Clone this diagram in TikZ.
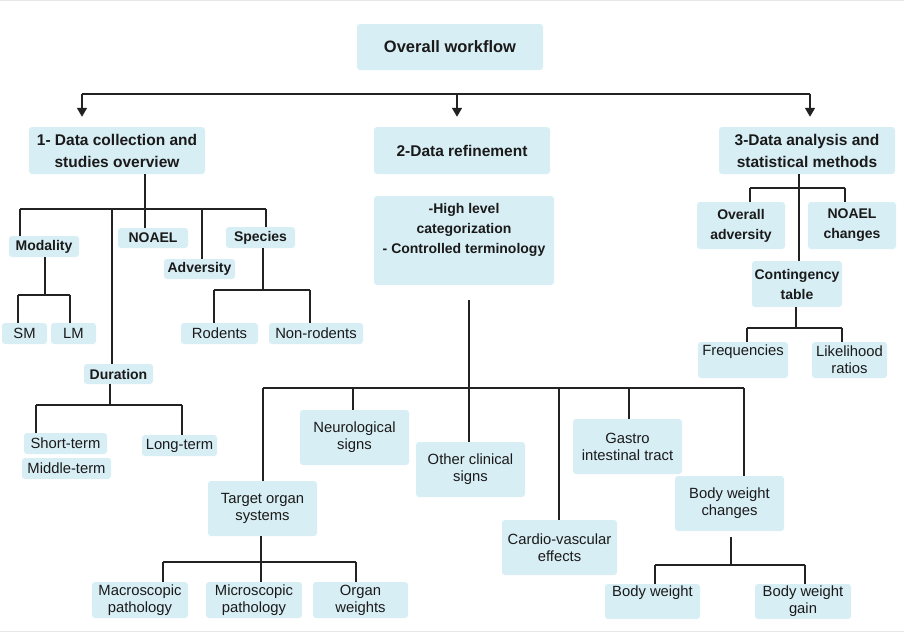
\documentclass[tikz,border=0pt]{standalone}
\usepackage{fontspec}
\setmainfont{Liberation Sans}
\usetikzlibrary{arrows.meta,calc}
\definecolor{boxc}{HTML}{D8EEF5}
\definecolor{lnc}{HTML}{222222}
\definecolor{txtc}{HTML}{1A1A1A}
\definecolor{framec}{HTML}{E6E6E6}
\begin{document}
\begin{tikzpicture}[x=1pt,y=-1pt,
  box/.style={fill=boxc, rounded corners=3pt, inner sep=0pt, text=txtc, align=center},
  hfont/.style={font=\bfseries\fontsize{15.5}{22}\selectfont},
  bfont/.style={font=\bfseries\fontsize{14}{20}\selectfont},
  rfont/.style={font=\fontsize{14.8}{17}\selectfont},
  txt/.style={inner sep=0pt, text=txtc, align=center},
  conn/.style={draw=lnc, line width=1.5pt},
  arr/.style={conn, -{Triangle[width=10pt,length=9pt]}}
]
\useasboundingbox (0,0) rectangle (904,632);
\fill[white] (0,0) rectangle (904,632);
\draw[framec, line width=1.2pt] (0,0.6) -- (904,0.6);
\draw[framec, line width=1.2pt] (0,631.4) -- (904,631.4);

% top level
\node[box,font=\bfseries\fontsize{16.5}{22}\selectfont,minimum width=186pt,minimum height=46pt] (overall) at (450,47) {Overall workflow};
\node[box,hfont,minimum width=176pt,minimum height=47pt] (d1) at (117,150.5) {1- Data collection and\\studies overview};
\node[box,hfont,minimum width=176pt,minimum height=47pt] (d2) at (462,150.5) {2-Data refinement};
\node[box,hfont,minimum width=176pt,minimum height=47pt] (d3) at (807,150.5) {3-Data analysis and\\statistical methods};

% branch 1
\node[box,bfont,minimum width=70pt,minimum height=21pt] (modality) at (44,246.5) {Modality};
\node[box,bfont,minimum width=70pt,minimum height=20pt] (noael) at (153,238) {NOAEL};
\node[box,bfont,minimum width=71pt,minimum height=20pt] (adversity) at (199.5,269) {Adversity};
\node[box,bfont,minimum width=69pt,minimum height=21pt] (species) at (260.5,237.5) {Species};
\node[box,rfont,minimum width=45pt,minimum height=21pt] (sm) at (24.5,333.5) {SM};
\node[box,rfont,minimum width=45pt,minimum height=21pt] (lm) at (73.5,333.5) {LM};
\node[box,rfont,minimum width=77pt,minimum height=21pt] (rodents) at (219.5,333.5) {Rodents};
\node[box,rfont,minimum width=94pt,minimum height=21pt] (nonrodents) at (316,333.5) {Non-rodents};
\node[box,bfont,minimum width=69pt,minimum height=20pt] (duration) at (118.5,374) {Duration};
\node[box,rfont,minimum width=83pt,minimum height=21pt] (short) at (65.5,443.5) {Short-term};
\node[box,rfont,minimum width=89pt,minimum height=21pt] (middle) at (66.5,468.5) {Middle-term};
\node[box,rfont,minimum width=75pt,minimum height=21pt] (long) at (179.5,445.5) {Long-term};

% branch 2
\node[box,minimum width=180pt,minimum height=89pt] (d2sub) at (464,240.5) {};
\node[txt,bfont] (d2subt) at (464,230) {-High level\\categorization\\- Controlled terminology};
\node[box,rfont,minimum width=109pt,minimum height=55pt] (neuro) at (354.5,437.5) {Neurological\\signs};
\node[box,rfont,minimum width=109pt,minimum height=55pt] (other) at (470.5,469.5) {Other clinical\\signs};
\node[box,rfont,minimum width=109pt,minimum height=55pt] (target) at (262.5,508.5) {Target organ\\systems};
\node[box,rfont,minimum width=115pt,minimum height=55pt] (cardio) at (559.5,547.5) {Cardio-vascular\\effects};
\node[box,rfont,minimum width=109pt,minimum height=55pt] (gastro) at (627.5,446.5) {Gastro\\intestinal tract};
\node[box,rfont,minimum width=109pt,minimum height=55pt] (bwc) at (729.5,503.5) {Body weight\\changes};
\node[box,rfont,minimum width=96pt,minimum height=36pt] (macro) at (140,600) {Macroscopic\\pathology};
\node[box,rfont,minimum width=96pt,minimum height=36pt] (micro) at (254,600) {Microscopic\\pathology};
\node[box,rfont,minimum width=95pt,minimum height=36pt] (organ) at (360.5,600) {Organ\\weights};
\node[box,minimum width=95pt,minimum height=35pt] (bw) at (652.5,601.5) {};
\node[txt,rfont] (bwt) at (652.5,593) {Body weight};
\node[box,rfont,minimum width=96pt,minimum height=35pt] (bwg) at (803,601.5) {Body weight\\gain};

% branch 3
\node[box,bfont,minimum width=88pt,minimum height=47pt] (oadv) at (741,225.5) {Overall\\adversity};
\node[box,bfont,minimum width=88pt,minimum height=47pt] (nchg) at (852,225.5) {NOAEL\\changes};
\node[box,bfont,minimum width=90pt,minimum height=46pt] (cont) at (797,284) {Contingency\\table};
\node[box,minimum width=90pt,minimum height=36pt] (freq) at (743,360) {};
\node[txt,rfont] (freqt) at (743,352) {Frequencies};
\node[box,rfont,minimum width=75pt,minimum height=36pt] (lik) at (849.5,360) {Likelihood\\ratios};

% junction coordinates
\coordinate (t1) at (82,94);
\coordinate (t2) at (457,94);
\coordinate (t3) at (810,94);
\coordinate (j1) at (145,209);
\coordinate (h1a) at (20,209);
\coordinate (h1d) at (112,209);
\coordinate (h1e) at (202,209);
\coordinate (h1b) at (266,209);
\coordinate (jm) at (45,295);
\coordinate (hma) at (18,295);
\coordinate (hmb) at (70,295);
\coordinate (js) at (263,290);
\coordinate (hsa) at (214,290);
\coordinate (hsb) at (310,290);
\coordinate (jd) at (110,405);
\coordinate (hda) at (36,405);
\coordinate (hdb) at (182,405);
\coordinate (j2) at (469,388);
\coordinate (h2a) at (263,388);
\coordinate (h2n) at (353,388);
\coordinate (h2c) at (559,388);
\coordinate (h2g) at (629,388);
\coordinate (h2b) at (744,388);
\coordinate (jt) at (261,562);
\coordinate (hta) at (163,562);
\coordinate (htb) at (356,562);
\coordinate (jb) at (731,565);
\coordinate (hba) at (655,565);
\coordinate (hbb) at (805,565);
\coordinate (j3) at (799,188);
\coordinate (h3a) at (750,188);
\coordinate (h3b) at (845,188);
\coordinate (jc) at (796,328);
\coordinate (hca) at (747,328);
\coordinate (hcb) at (842,328);

% top arrows
\draw[conn] (t1) -- (t3);
\draw[arr,shorten >=10pt] (t1) -- (t1 |- d1.north);
\draw[arr,shorten >=10pt] (t2) -- (t2 |- d2.north);
\draw[arr,shorten >=10pt] (t3) -- (t3 |- d3.north);

% branch 1 connectors
\draw[conn] (j1 |- d1.south) -- (j1);
\draw[conn] (h1a) -- (h1b);
\draw[conn] (h1a) -- (h1a |- modality.north);
\draw[conn] (h1d) -- (h1d |- duration.north);
\draw[conn] (j1) -- (j1 |- noael.north);
\draw[conn] (h1e) -- (h1e |- adversity.north);
\draw[conn] (h1b) -- (h1b |- species.north);
\draw[conn] (jm |- modality.south) -- (jm);
\draw[conn] (hma) -- (hmb);
\draw[conn] (hma) -- (hma |- sm.north);
\draw[conn] (hmb) -- (hmb |- lm.north);
\draw[conn] (js |- species.south) -- (js);
\draw[conn] (hsa) -- (hsb);
\draw[conn] (hsa) -- (hsa |- rodents.north);
\draw[conn] (hsb) -- (hsb |- nonrodents.north);
\draw[conn] (jd |- duration.south) -- (jd);
\draw[conn] (hda) -- (hdb);
\draw[conn] (hda) -- (hda |- short.north);
\draw[conn] (hdb) -- (hdb |- long.north);

% branch 2 connectors
\draw[conn,shorten <=15pt] (j2 |- d2sub.south) -- (j2);
\draw[conn] (h2a) -- (h2b);
\draw[conn] (h2a) -- (h2a |- target.north);
\draw[conn] (h2n) -- (h2n |- neuro.north);
\draw[conn] (j2) -- (j2 |- other.north);
\draw[conn] (h2c) -- (h2c |- cardio.north);
\draw[conn] (h2g) -- (h2g |- gastro.north);
\draw[conn] (h2b) -- (h2b |- bwc.north);
\draw[conn] (jt |- target.south) -- (jt);
\draw[conn] (hta) -- (htb);
\draw[conn] (hta) -- (hta |- macro.north);
\draw[conn] (jt) -- (jt |- micro.north);
\draw[conn] (htb) -- (htb |- organ.north);
\draw[conn,shorten <=6pt] (jb |- bwc.south) -- (jb);
\draw[conn] (hba) -- (hbb);
\draw[conn] (hba) -- (hba |- bw.north);
\draw[conn] (hbb) -- (hbb |- bwg.north);

% branch 3 connectors
\draw[conn] (j3 |- d3.south) -- (j3 |- cont.north);
\draw[conn] (h3a) -- (h3b);
\draw[conn] (h3a) -- (h3a |- oadv.north);
\draw[conn] (h3b) -- (h3b |- nchg.north);
\draw[conn] (jc |- cont.south) -- (jc);
\draw[conn] (hca) -- (hcb);
\draw[conn] (hca) -- (hca |- freq.north);
\draw[conn] (hcb) -- (hcb |- lik.north);
\end{tikzpicture}
\end{document}
